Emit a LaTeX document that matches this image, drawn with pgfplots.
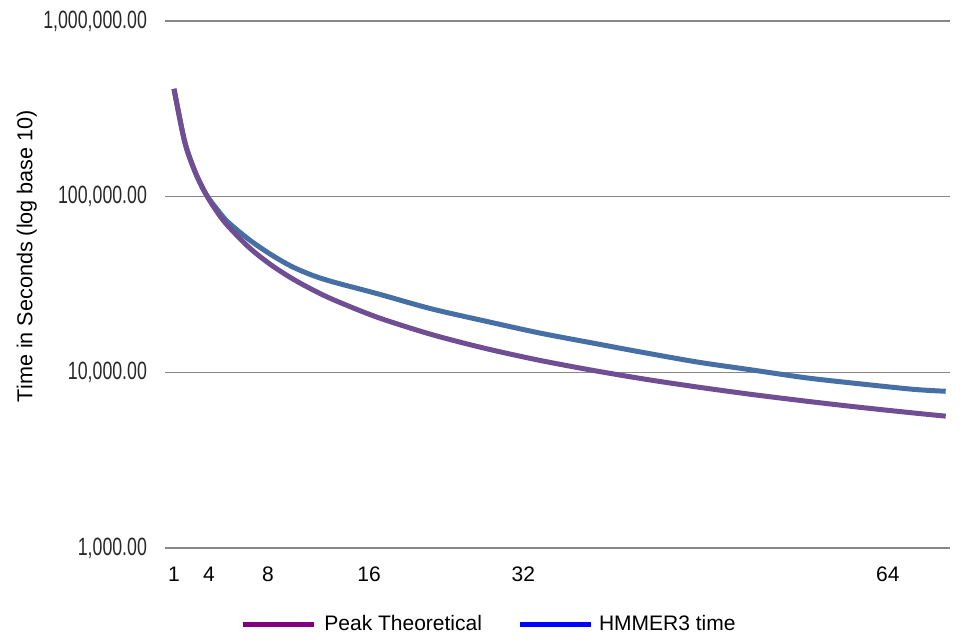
\documentclass[border=0pt]{standalone}
\usepackage{graphicx}
\usepackage{pgfplots}
\pgfplotsset{compat=1.18}
\usepackage{fontspec}
\setmainfont{Liberation Sans}
\definecolor{plotpurple}{RGB}{112,78,148}
\definecolor{plotblue}{RGB}{70,112,165}
\definecolor{legpurple}{RGB}{128,0,128}
\definecolor{legblue}{RGB}{0,0,255}
\definecolor{gridgray}{RGB}{135,135,135}
\definecolor{ticktext}{RGB}{40,40,40}
\newcommand{\ytl}[1]{\scalebox{0.71}[1]{#1}}
\begin{document}
\begin{tikzpicture}
\begin{axis}[
  scale only axis,
  width=392.5pt, height=263.5pt,
  ymode=log,
  ymin=1000, ymax=1000000,
  xmin=0.16, xmax=73.4,
  axis line style={draw=none},
  ytick={1000,10000,100000,1000000},
  yticklabels={\ytl{1{,}000.00},\ytl{10{,}000.00},\ytl{100{,}000.00},\ytl{1{,}000{,}000.00}},
  xtick={1,4.27,9.77,19.2,33.6,67.6},
  xticklabels={1,4,8,16,32,64},
  tick style={draw=none},
  ymajorgrids, grid style={gridgray, line width=0.8pt},
  yticklabel style={font=\fontsize{12.5}{14}\selectfont, text=ticktext, xshift=-5.5pt},
  xticklabel style={font=\fontsize{10.5}{12}\selectfont, yshift=-6pt},
  /pgf/number format/assume math mode=true,
  ylabel={Time in Seconds (log base 10)},
  ylabel style={font=\fontsize{10.8}{12}\selectfont, at={(axis description cs:-0.176,0.554)}, anchor=center},
  legend style={at={(axis description cs:0.414,-0.145)}, anchor=center, draw=none, fill=none,
    font=\fontsize{10.5}{12}\selectfont, /tikz/every even column/.append style={column sep=15.5pt}},
  legend columns=2,
  legend image code/.code={\draw[#1, line width=2.5pt] (0pt,0pt) -- (35.5pt,0pt);},
  clip=false,
]
\addlegendimage{legpurple}
\addlegendentry{\hspace{2pt}Peak Theoretical}
\addlegendimage{legblue}
\addlegendentry{\hspace{1pt}HMMER3 time}
% HMMER3 time
\addplot[plotblue, line width=2.5pt, smooth, forget plot] coordinates {
(1,411000) (2,205000) (3,137000) (4,103000) (5,85000) (6,72000) (8,57000)
(10,47000) (12,40000) (14,35500) (16,32500) (20,28000) (25,23000) (30,19600)
(35,16800) (40,14700) (45,12900) (50,11400) (55,10300) (60,9300) (65,8600)
(70,8000) (73,7800)};
% Peak Theoretical
\addplot[plotpurple, line width=2.5pt, smooth, forget plot] coordinates {
(1,411000) (2,205500) (3,137000) (4,102750) (5,82200) (6,68500) (8,51400)
(10,41100) (12,34250) (14,29360) (16,25700) (20,20550) (25,16440) (30,13700)
(35,11740) (40,10280) (45,9130) (50,8220) (55,7470) (60,6850) (65,6320)
(70,5870) (73,5630)};
\end{axis}
\path (-82.5pt,-43pt) rectangle (398.5pt,274pt);
\end{tikzpicture}
\end{document}
